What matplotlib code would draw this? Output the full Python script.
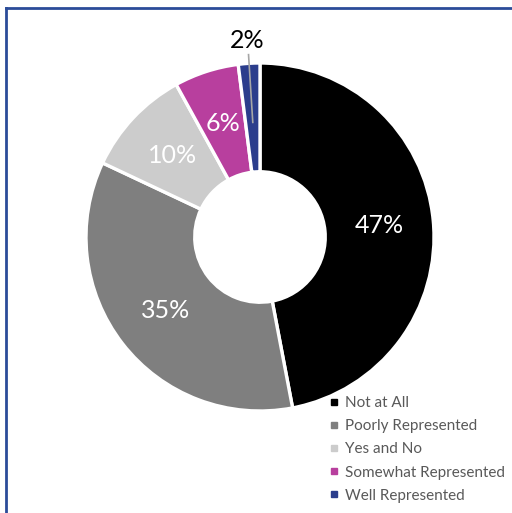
import matplotlib
matplotlib.use("Agg")
import matplotlib.pyplot as plt
from matplotlib.lines import Line2D
import numpy as np

categories = ["Not at All", "Poorly Represented", "Yes and No", "Somewhat Represented", "Well Represented"]
values = [47, 35, 10, 6, 2]
labels = ["47%", "35%", "10%", "6%", "2%"]
colors = ["#000000", "#7F7F7F", "#CCCCCC", "#B83F9E", "#2B3D8C"]

plt.rcParams['font.family'] = ['Lato', 'DejaVu Sans']

W, H = 512, 513
fig = plt.figure(figsize=(W / 100, H / 100), dpi=100)

# blue frame (left and top edges visible)
fig.add_artist(Line2D([5.5 / W, 5.5 / W], [0, 1 - 7.5 / H], transform=fig.transFigure,
                      color="#2B4C99", lw=2))
fig.add_artist(Line2D([5.5 / W, 1], [1 - 7.5 / H, 1 - 7.5 / H], transform=fig.transFigure,
                      color="#2B4C99", lw=2))

cx, cy, r = 260, 237, 174
ax = fig.add_axes([(cx - r) / W, 1 - (cy + r) / H, 2 * r / W, 2 * r / H])

hole = 0.375
wedges, _ = ax.pie(values, colors=colors, startangle=90, counterclock=False, radius=1,
                   wedgeprops=dict(width=1 - hole, edgecolor="white", linewidth=2.4))
ax.set_xlim(-1, 1)
ax.set_ylim(-1, 1)
ax.set_aspect("equal")
ax.axis("off")

total = sum(values)
cum = 0
mid = (1 + hole) / 2
for i, (v, lab) in enumerate(zip(values, labels)):
    a = np.deg2rad(90 - 360 * (cum + v / 2) / total)
    cum += v
    if i == len(values) - 1:
        ax.plot([np.cos(a) * 0.66, np.cos(a) * 1.05], [np.sin(a) * 0.66, np.sin(a) * 1.05],
                color="#A6A6A6", lw=1.2, clip_on=False)
        ax.text(np.cos(a) * 1.13, np.sin(a) * 1.13, lab, ha="center", va="center",
                fontsize=18, color="black", clip_on=False)
    else:
        ax.text(np.cos(a) * mid, np.sin(a) * mid, lab, ha="center", va="center",
                fontsize=18, color="white")

handles = [Line2D([], [], marker="s", linestyle="none", markersize=4.2,
                  markerfacecolor=c, markeredgecolor=c) for c in colors]
leg = fig.legend(handles, categories, loc="upper left",
                 bbox_to_anchor=(330 / W, 1 - 396 / H), frameon=False,
                 fontsize=11, handlelength=0.5, handletextpad=0.5,
                 labelspacing=0.6, borderpad=0, borderaxespad=0)
for t in leg.get_texts():
    t.set_color("#595959")

fig.savefig("out.png", dpi=100, facecolor="white")
